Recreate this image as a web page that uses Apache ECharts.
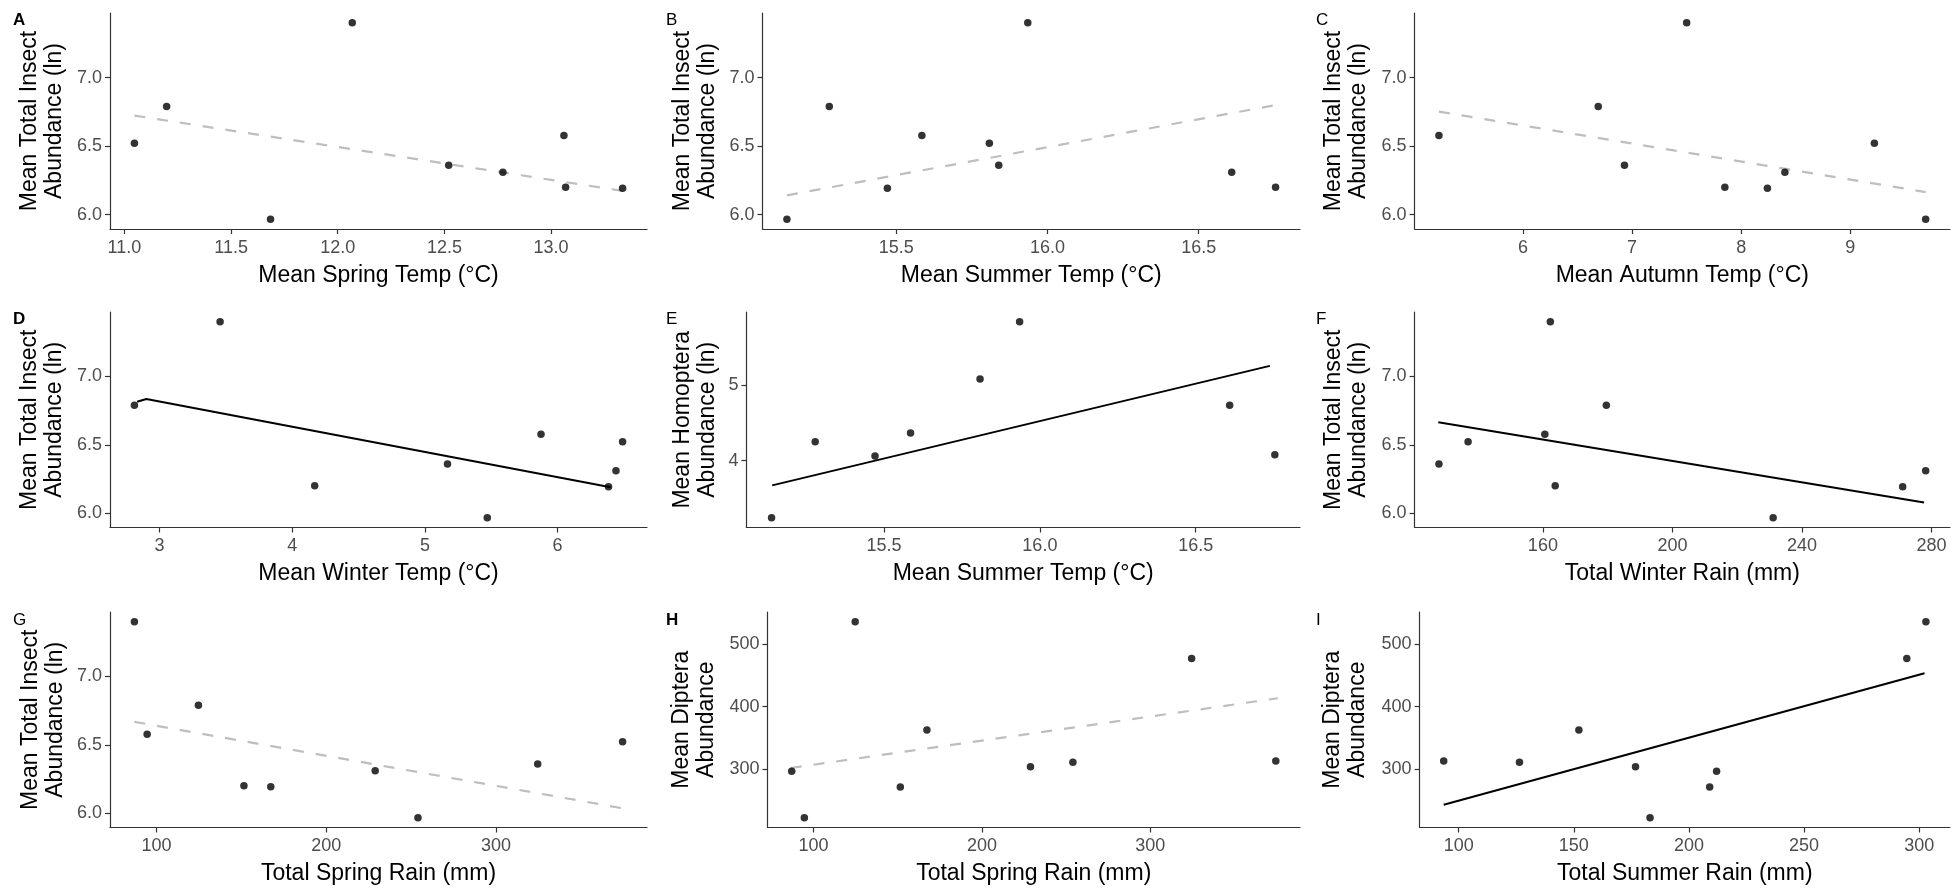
<!DOCTYPE html>
<html>
<head>
<meta charset="utf-8">
<script src="https://cdn.jsdelivr.net/npm/echarts@6/dist/echarts.min.js"></script>
<style>
  html, body { margin: 0; padding: 0; background: #ffffff; }
  #chart { width: 1952px; height: 890px; }
</style>
</head>
<body>
<div id="chart"></div>
<script>
// ---- Site-level data (9 sites, same order in every array) ----
const totalInsectLn = [7.40, 6.79, 6.577, 6.522, 6.36, 6.31, 6.20, 6.193, 5.967];
const homopteraLn   = [5.833, 4.251, 4.366, 5.079, null, 4.731, 4.079, 4.062, 3.247];
const dipteraAbund  = [296.8, 535.1, 222.9, 313.3, 476.6, 304.3, 271.8, 362.8, 311.2];

const springTemp = [12.068, 11.198, 13.06, 11.047, 12.52, 12.774, 13.068, 13.335, 11.685];
const summerTemp = [15.935, 15.279, 15.585, 15.808, 15.839, 16.609, 16.754, 15.471, 15.139];
const autumnTemp = [7.50, 6.69, 5.23, 9.22, 6.93, 8.40, 7.85, 8.24, 9.69];
const winterTemp = [3.456, 2.81, 5.875, 6.49, 5.17, 6.44, 4.169, 6.384, 5.47];
const winterRain = [162.3, 179.6, 160.6, 136.9, 127.9, 278.2, 163.8, 271.1, 231.1];
const springRain = [87.0, 124.7, 94.5, 374.5, 324.5, 228.8, 151.5, 167.3, 254.0];
const summerRain = [212.0, 302.9, 183.1, 93.5, 294.6, 176.8, 209.0, 152.2, 126.4];

// ---- Fitted trend lines (end points) ----
const trendA = [[11.047, 6.723], [13.335, 6.173]];
const trendB = [[15.139, 6.141], [16.754, 6.800]];
const trendC = [[5.23, 6.752], [9.69, 6.165]];
const trendD = [[2.83, 6.815], [2.90, 6.835], [6.40, 6.190]];
const trendE = [[15.141, 3.674], [16.738, 5.251]];
const trendF = [[127.7, 6.666], [277.7, 6.079]];
const trendG = [[87.0, 6.668], [374.5, 6.036]];
const trendH = [[86.4, 302.1], [375.7, 413.3]];
const trendI = [[93.5, 243.6], [302.3, 453.2]];

// ---- Tick labels ----
const ticksSpringTemp = [11.0, 11.5, 12.0, 12.5, 13.0];
const ticksSummerTemp = [15.5, 16.0, 16.5];
const ticksAutumnTemp = [6, 7, 8, 9];
const ticksWinterTemp = [3, 4, 5, 6];
const ticksWinterRain = [160, 200, 240, 280];
const ticksSpringRain = [100, 200, 300];
const ticksSummerRain = [100, 150, 200, 250, 300];
const ticksInsectLn   = [6.0, 6.5, 7.0];
const ticksHomoptera  = [4, 5];
const ticksDiptera    = [300, 400, 500];

const yInsect = 'Mean Total Insect\nAbundance (ln)';
const yHomo = 'Mean Homoptera\nAbundance (ln)';
const yDip = 'Mean Diptera\nAbundance';

const panels = [
  { letter: 'A', bold: true,  x: springTemp, y: totalInsectLn, xt: ticksSpringTemp, yt: ticksInsectLn, xd: 1, yd: 1, xName: 'Mean Spring Temp (°C)', yName: yInsect, trend: trendA, dashed: true },
  { letter: 'B', bold: false, x: summerTemp, y: totalInsectLn, xt: ticksSummerTemp, yt: ticksInsectLn, xd: 1, yd: 1, xName: 'Mean Summer Temp (°C)', yName: yInsect, trend: trendB, dashed: true },
  { letter: 'C', bold: false, x: autumnTemp, y: totalInsectLn, xt: ticksAutumnTemp, yt: ticksInsectLn, xd: 0, yd: 1, xName: 'Mean Autumn Temp (°C)', yName: yInsect, trend: trendC, dashed: true },
  { letter: 'D', bold: true,  x: winterTemp, y: totalInsectLn, xt: ticksWinterTemp, yt: ticksInsectLn, xd: 0, yd: 1, xName: 'Mean Winter Temp (°C)', yName: yInsect, trend: trendD, dashed: false },
  { letter: 'E', bold: false, x: summerTemp, y: homopteraLn, xt: ticksSummerTemp, yt: ticksHomoptera, xd: 1, yd: 0, xName: 'Mean Summer Temp (°C)', yName: yHomo, trend: trendE, dashed: false },
  { letter: 'F', bold: false, x: winterRain, y: totalInsectLn, xt: ticksWinterRain, yt: ticksInsectLn, xd: 0, yd: 1, xName: 'Total Winter Rain (mm)', yName: yInsect, trend: trendF, dashed: false },
  { letter: 'G', bold: false, x: springRain, y: totalInsectLn, xt: ticksSpringRain, yt: ticksInsectLn, xd: 0, yd: 1, xName: 'Total Spring Rain (mm)', yName: yInsect, trend: trendG, dashed: true },
  { letter: 'H', bold: true,  x: springRain, y: dipteraAbund, xt: ticksSpringRain, yt: ticksDiptera, xd: 0, yd: 0, xName: 'Total Spring Rain (mm)', yName: yDip, trend: trendH, dashed: true },
  { letter: 'I', bold: false, x: summerRain, y: dipteraAbund, xt: ticksSummerRain, yt: ticksDiptera, xd: 0, yd: 0, xName: 'Total Summer Rain (mm)', yName: yDip, trend: trendI, dashed: false }
];

// ---- Layout (pixels) ----
const gridLefts  = [110, 762.5, 1414.6, 110, 746.4, 1414.6, 110, 767.5, 1419.6];
const gridRights = [647, 1300, 1950];
const rowTops    = [13, 312, 612];
const rowBottoms = [229, 527.5, 827.5];
const yTitleOffsets = [67.5, 67.5, 68, 67.5, 51, 68.5, 67, 73, 74];
const letterX = [13, 666, 1316];
const letterY = [12, 311, 612];

const FONT = '"Liberation Sans", Arial, Helvetica, sans-serif';

function expand(vals) {
  const v = vals.filter(d => d !== null && d !== undefined);
  const mn = Math.min(...v), mx = Math.max(...v);
  const pad = (mx - mn) * 0.05;
  return [mn - pad, mx + pad];
}

const grids = [], xAxes = [], yAxes = [], series = [], graphics = [];

panels.forEach((p, i) => {
  const col = i % 3, row = Math.floor(i / 3);
  const left = gridLefts[i];
  const right = gridRights[col];
  const top = rowTops[row];
  const bottom = rowBottoms[row];
  grids.push({ left: left, top: top, width: right - left, height: bottom - top, containLabel: false });

  const xr = expand(p.x.filter((v, k) => p.y[k] !== null));
  const yr = expand(p.y);

  xAxes.push({
    type: 'value', gridIndex: i, min: xr[0], max: xr[1],
    splitLine: { show: false },
    axisLine: { show: true, onZero: false, lineStyle: { color: '#333333', width: 1.2 } },
    axisTick: { show: true, length: 5, customValues: p.xt, lineStyle: { color: '#333333', width: 1.2 } },
    axisLabel: { customValues: p.xt, formatter: v => Number(v).toFixed(p.xd), color: '#4d4d4d', fontSize: 18, margin: 10, fontFamily: FONT },
    name: p.xName, nameLocation: 'middle', nameGap: 35,
    nameTextStyle: { color: '#000000', fontSize: 23, fontFamily: FONT }
  });
  yAxes.push({
    type: 'value', gridIndex: i, min: yr[0], max: yr[1],
    splitLine: { show: false },
    axisLine: { show: true, onZero: false, lineStyle: { color: '#333333', width: 1.2 } },
    axisTick: { show: true, length: 5, customValues: p.yt, lineStyle: { color: '#333333', width: 1.2 } },
    axisLabel: { customValues: p.yt, formatter: v => Number(v).toFixed(p.yd), color: '#4d4d4d', fontSize: 18, margin: 8, fontFamily: FONT }
  });

  const pts = [];
  p.x.forEach((v, k) => { if (p.y[k] !== null) pts.push([v, p.y[k]]); });

  series.push({
    type: 'line', xAxisIndex: i, yAxisIndex: i, data: p.trend,
    symbol: 'none', silent: true, z: 2, animation: false,
    lineStyle: p.dashed
      ? { color: '#bebebe', width: 2.2, type: [11, 12] }
      : { color: '#000000', width: 2 }
  });
  series.push({
    type: 'scatter', xAxisIndex: i, yAxisIndex: i, data: pts,
    symbol: 'circle', symbolSize: 7.5, z: 3, animation: false,
    itemStyle: { color: '#000000' }
  });

  // panel letter
  graphics.push({
    type: 'text', x: letterX[col], y: letterY[row], silent: true,
    style: { text: p.letter, fontSize: 17, fontWeight: p.bold ? 'bold' : 'normal', fontFamily: FONT, fill: '#000000', verticalAlign: 'top', align: 'left' }
  });
  // y-axis title (rotated, two lines)
  graphics.push({
    type: 'text', x: left - yTitleOffsets[i], y: (top + bottom) / 2, rotation: Math.PI / 2, silent: true,
    style: { text: p.yName, fontSize: 23, lineHeight: 25, fontFamily: FONT, fill: '#000000', align: 'center', verticalAlign: 'middle' }
  });
});

const chart = echarts.init(document.getElementById('chart'), null, { renderer: 'canvas' });
chart.setOption({
  backgroundColor: '#ffffff',
  animation: false,
  grid: grids,
  xAxis: xAxes,
  yAxis: yAxes,
  series: series,
  graphic: graphics
});
</script>
</body>
</html>
